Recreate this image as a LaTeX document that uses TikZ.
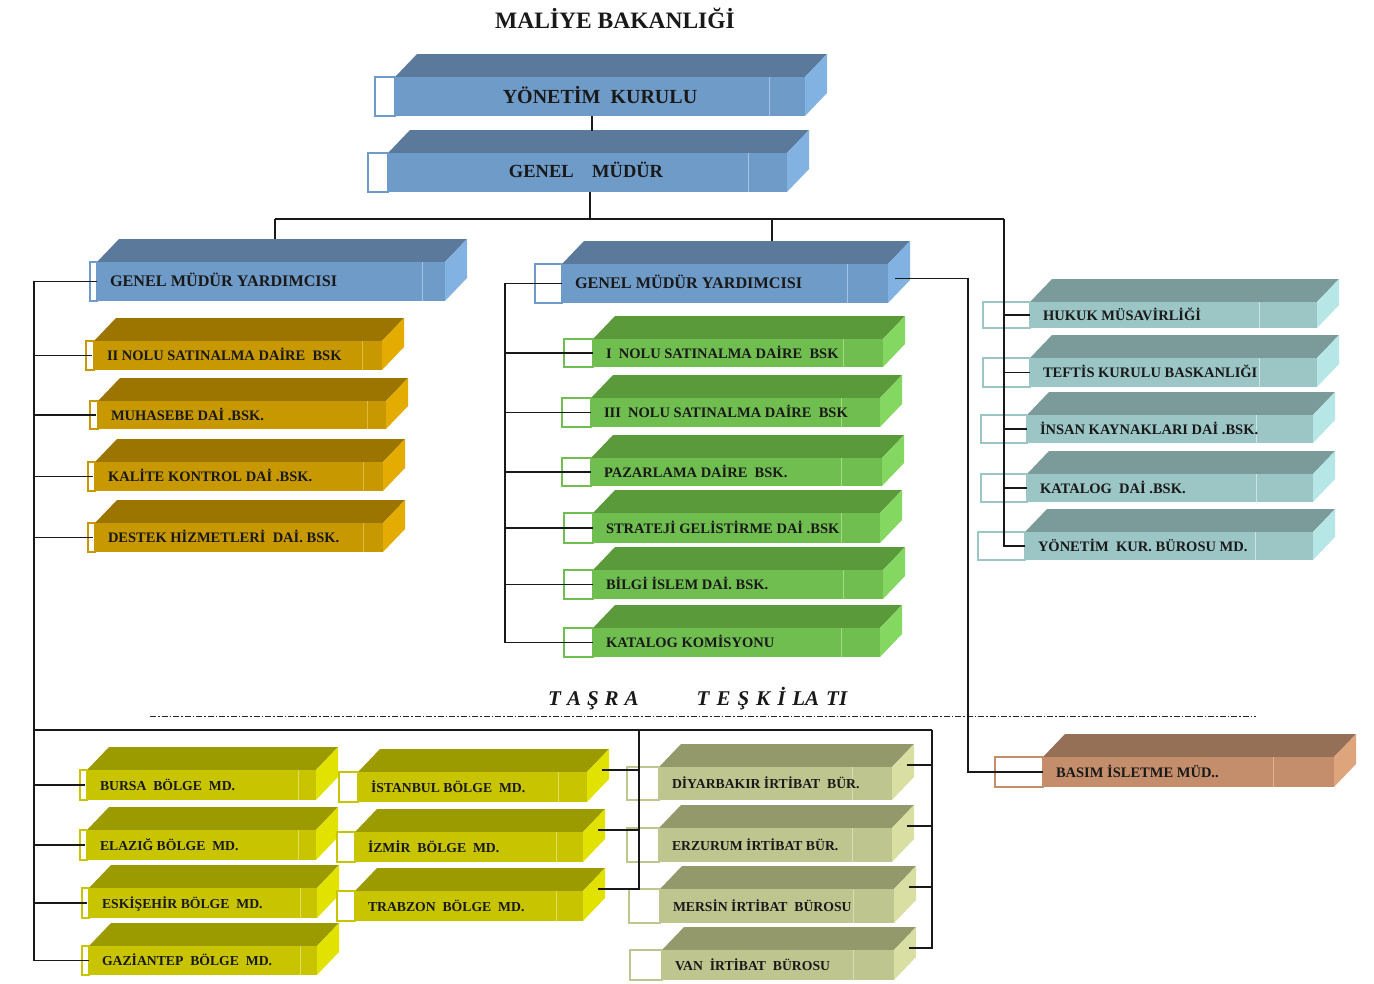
\documentclass[tikz,border=0pt]{standalone}
\usepackage{fontspec}
\setmainfont{Liberation Serif}
\usetikzlibrary{fit}
% colours: top face, front face, side face, divider
\definecolor{bltop}{RGB}{91,122,155}\definecolor{blfront}{RGB}{111,155,200}\definecolor{blside}{RGB}{130,178,225}\definecolor{bldiv}{RGB}{160,195,230}
\definecolor{gotop}{RGB}{155,117,0}\definecolor{gofront}{RGB}{200,152,0}\definecolor{goside}{RGB}{228,172,0}\definecolor{godiv}{RGB}{225,185,60}
\definecolor{grtop}{RGB}{90,154,58}\definecolor{grfront}{RGB}{112,190,80}\definecolor{grside}{RGB}{132,216,98}\definecolor{grdiv}{RGB}{160,220,130}
\definecolor{tetop}{RGB}{122,155,153}\definecolor{tefront}{RGB}{156,198,198}\definecolor{teside}{RGB}{182,230,230}\definecolor{tediv}{RGB}{200,228,228}
\definecolor{yetop}{RGB}{155,155,0}\definecolor{yefront}{RGB}{200,196,0}\definecolor{yeside}{RGB}{226,226,0}\definecolor{yediv}{RGB}{225,222,90}
\definecolor{khtop}{RGB}{148,153,108}\definecolor{khfront}{RGB}{191,197,143}\definecolor{khside}{RGB}{217,223,162}\definecolor{khdiv}{RGB}{215,220,180}
\definecolor{brtop}{RGB}{150,112,86}\definecolor{brfront}{RGB}{196,142,108}\definecolor{brside}{RGB}{222,165,125}\definecolor{brdiv}{RGB}{225,180,150}
\newcommand\fz[1]{\fontsize{#1}{#1}\selectfont\bfseries}
\newcommand\fa{\fz{14.5}}
\newcommand\fb{\fz{16.2}}
\newcommand\fc{\fz{13.7}}
% #1 name, #2 tab left, #3 front left, #4 divider x, #5 front right, #6 front top y, #7 bottom y, #8 colour prefix, #9 text
\newcommand\cube[9]{%
  \fill[#8top] (#3,#6) -- (#3+22,#6-23) -- (#5+22,#6-23) -- (#5,#6) -- cycle;
  \fill[#8side] (#5,#6) -- (#5+22,#6-23) -- (#5+22,#7-23) -- (#5,#7) -- cycle;
  \fill[#8front] (#3,#6) rectangle (#5,#7);
  \draw[#8div, line width=1pt] (#4,#6) -- (#4,#7);
  \draw[#8front, line width=1.4pt, fill=white] (#2,#6) rectangle (#3,#7);
  \node[fit={(#3,#6) (#5,#7)}, inner sep=0pt] (#1) {};
  \coordinate (#1-tt) at ({(#3+#5)/2+11},#6-23);
  \coordinate (#1-sd) at (#5+15,#6-2);
  \node[lbl] (#1-t) at ([xshift=13pt,yshift=-5pt]#1.west) {#9};
}
\tikzset{
  lbl/.style={anchor=base west, inner sep=0pt, text=black!90},
  conn/.style={draw=black!90, line width=1.2pt},
  dashdot/.style={draw=black!85, line width=1pt, dash pattern=on 6pt off 2pt on 1.5pt off 2pt}
}
\begin{document}
\begin{tikzpicture}[x=1pt,y=-1pt]
\useasboundingbox (0,0) rectangle (1374,983);
\fill[white] (0,0) rectangle (1374,983);

\node[anchor=base, inner sep=0pt, font=\fz{23.5}, text=black!90] (title) at (615,28.5) {MALİYE BAKANLIĞİ};

% top level
\cube{yk}{375}{395}{769}{805}{77}{116}{bl}{}
\node[anchor=base, inner sep=0pt, font=\fz{20}, text=black!90] (yk-c) at (600,103.6) {YÖNETİM\ \ KURULU};
\cube{gm}{368}{388}{748}{787}{153}{192}{bl}{}
\node[anchor=base, inner sep=0pt, font=\fz{18.5}, text=black!90] (gm-c) at (586,177.3) {GENEL\hspace{1em}MÜDÜR};

\cube{gmya}{90}{97}{422}{445}{262}{301}{bl}{\fb GENEL MÜDÜR YARDIMCISI}
\cube{gmyb}{535}{562}{847}{888}{264}{303}{bl}{\fb GENEL MÜDÜR YARDIMCISI}

% gold column
\cube{g1}{86}{94}{362}{382}{341}{370}{go}{\fa II NOLU SATINALMA DAİRE\ \ BSK}
\cube{g2}{90}{98}{367}{386}{401}{429}{go}{\fa MUHASEBE DAİ .BSK.}
\cube{g3}{88}{95}{363}{383}{462}{491}{go}{\fa KALİTE KONTROL DAİ .BSK.}
\cube{g4}{88}{95}{363}{383}{523}{552}{go}{\fa DESTEK HİZMETLERİ\ \ DAİ. BSK.}

% green column
\cube{n1}{564}{593}{843}{883}{339}{367}{gr}{\fa I\ \ NOLU SATINALMA DAİRE\ \ BSK}
\cube{n2}{562}{591}{841}{880}{398}{427}{gr}{\fa III\ \ NOLU SATINALMA DAİRE\ \ BSK}
\cube{n3}{562}{591}{841}{882}{458}{486}{gr}{\fa PAZARLAMA DAİRE\ \ BSK.}
\cube{n4}{564}{593}{841}{880}{513}{543}{gr}{\fa STRATEJİ GELİSTİRME DAİ .BSK}
\cube{n5}{564}{593}{843}{883}{570}{599}{gr}{\fa BİLGİ İSLEM DAİ. BSK.}
\cube{n6}{564}{593}{841}{880}{628}{657}{gr}{\fa KATALOG KOMİSYONU}

% teal column
\cube{t1}{983}{1030}{1259}{1317}{302}{328}{te}{\fa HUKUK MÜSAVİRLİĞİ}
\cube{t2}{983}{1030}{1259}{1317}{358}{387}{te}{\fa TEFTİS KURULU BASKANLIĞI}
\cube{t3}{981}{1027}{1256}{1313}{415}{443}{te}{\fa İNSAN KAYNAKLARI DAİ .BSK.}
\cube{t4}{981}{1027}{1256}{1313}{474}{502}{te}{\fa KATALOG\ \ DAİ .BSK.}
\cube{t5}{978}{1025}{1255}{1313}{532}{560}{te}{\fa YÖNETİM\ \ KUR. BÜROSU MD.}

% basim
\cube{basim}{995}{1043}{1273}{1334}{757}{787}{br}{\fa BASIM İSLETME MÜD..}

% tasra
\node[anchor=base west, inner sep=0pt, font=\fz{21}\itshape, text=black!90] (tasra) at (548,705)
  {T\hspace{6pt}A\hspace{6pt}Ş\hspace{6pt}R\hspace{6pt}A\hspace{58pt}T\hspace{7pt}E\hspace{7pt}Ş\hspace{7pt}K\hspace{7pt}İ\hspace{7pt}LA\hspace{7pt}TI};
\coordinate (dl) at (150,716);
\coordinate (dr) at (1256,716);
\draw[dashdot] (dl) -- (dr);

\cube{b1}{80}{87}{298}{316}{770}{800}{ye}{\fc BURSA\ \ BÖLGE\ \ MD.}
\cube{b2}{80}{87}{298}{316}{830}{860}{ye}{\fc ELAZIĞ BÖLGE\ \ MD.}
\cube{b3}{82}{89}{300}{317}{888}{918}{ye}{\fc ESKİŞEHİR BÖLGE\ \ MD.}
\cube{b4}{82}{89}{300}{317}{946}{975}{ye}{\fc GAZİANTEP\ \ BÖLGE\ \ MD.}
\cube{b5}{339}{358}{558}{587}{772}{802}{ye}{\fc İSTANBUL BÖLGE\ \ MD.}
\cube{b6}{337}{355}{556}{583}{832}{862}{ye}{\fc İZMİR\ \ BÖLGE\ \ MD.}
\cube{b7}{337}{355}{556}{583}{891}{921}{ye}{\fc TRABZON\ \ BÖLGE\ \ MD.}

\cube{i1}{627}{659}{852}{892}{767}{800}{kh}{\fc DİYARBAKIR İRTİBAT\ \ BÜR.}
\cube{i2}{627}{659}{852}{892}{828}{862}{kh}{\fc ERZURUM İRTİBAT BÜR.}
\cube{i3}{629}{660}{853}{894}{889}{923}{kh}{\fc MERSİN İRTİBAT\ \ BÜROSU}
\cube{i4}{630}{662}{853}{894}{950}{980}{kh}{\fc VAN\ \ İRTİBAT\ \ BÜROSU}

% ---------- connectors ----------
\coordinate (j0) at (592,131);
\coordinate (bus) at (590,219);
\coordinate (busL) at (275,219);
\coordinate (busM) at (772,219);
\coordinate (busR) at (1004,219);
\coordinate (lx) at (34,730);
\coordinate (gx) at (505,0);
\coordinate (bj) at (968,278.5);
\coordinate (mj) at (639,730);
\coordinate (rj) at (932,730);

\draw[conn] (yk.south -| j0) -- (j0);
\draw[conn] (gm.south -| bus) -- (bus);
\draw[conn] (busL) -- (busR);
\draw[conn] (busL) -- (busL |- gmya-tt);
\draw[conn] (busM) -- (busM |- gmyb-tt);

% teal trunk
\draw[conn] (busR) -- (busR |- t5.west) -- (t5.west);
\foreach \n in {t1,t2,t3,t4} \draw[conn] (busR |- \n.west) -- (\n.west);

% left trunk
\draw[conn] (gmya.west) -- (gmya.west -| lx) -- (lx) -- (lx |- b4.west) -- (b4.west);
\foreach \n in {g1,g2,g3,g4,b1,b2,b3} \draw[conn] (lx |- \n.west) -- ([xshift=-2pt]\n.west);

% green trunk
\draw[conn] (gmyb.west) -- (gmyb.west -| gx) -- (gx |- n6.west) -- (n6.west);
\foreach \n in {n1,n2,n3,n4,n5} \draw[conn] (gx |- \n.west) -- (\n.west);

% basim
\draw[conn] ([xshift=7pt,yshift=5pt]gmyb.east) -- (bj) -- (bj |- basim.west) -- (basim.west);

% tasra bus
\draw[conn] (lx) -- (rj);
\draw[conn] (mj) -- (mj |- b7-sd) -- (b7-sd);
\foreach \n in {b5,b6} \draw[conn] (\n-sd) -- (mj |- \n-sd);
\draw[conn] (rj) -- (rj |- i4-sd) -- (i4-sd);
\foreach \n in {i1,i2,i3} \draw[conn] (\n-sd) -- (rj |- \n-sd);
\end{tikzpicture}
\end{document}
